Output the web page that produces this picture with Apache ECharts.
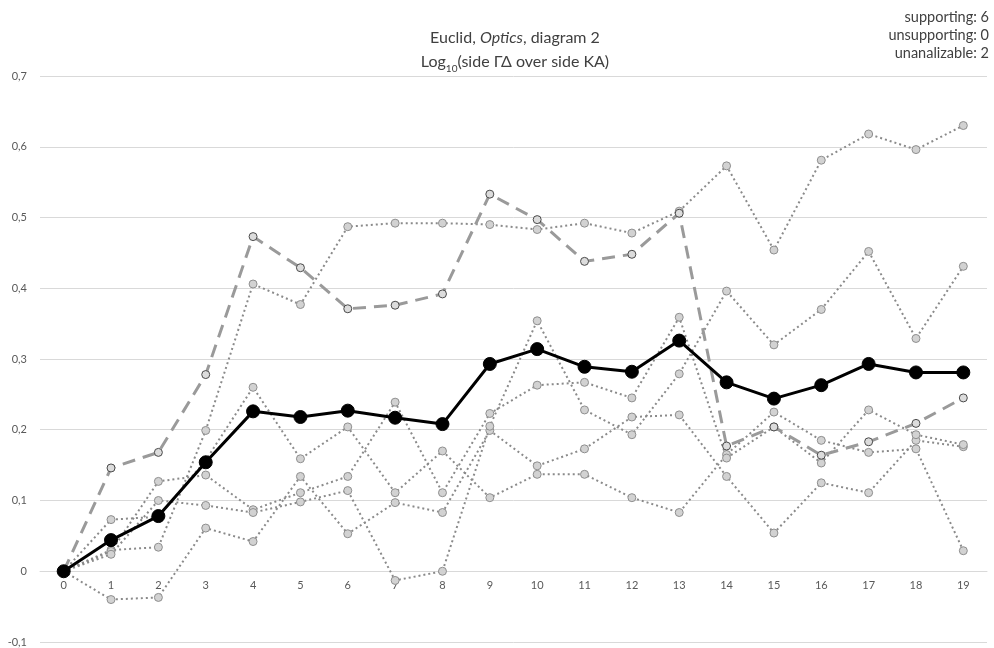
<!DOCTYPE html>
<html>
<head>
<meta charset="utf-8">
<script src="https://cdn.jsdelivr.net/npm/echarts@6/dist/echarts.min.js"></script>
<style>
html,body{margin:0;padding:0;background:#fff;}
#chart{width:994px;height:648px;}
</style>
</head>
<body>
<div id="chart"></div>
<script>
const categories = ['0','1','2','3','4','5','6','7','8','9','10','11','12','13','14','15','16','17','18','19'];
const yTicks = [-0.1, 0, 0.1, 0.2, 0.3, 0.4, 0.5, 0.6, 0.7];

const supportA = [0, 0.030, 0.034, 0.199, 0.406, 0.377, 0.487, 0.492, 0.492, 0.490, 0.483, 0.492, 0.478, 0.509, 0.573, 0.454, 0.581, 0.618, 0.596, 0.630];
const supportB = [0, 0.073, 0.077, 0.157, 0.260, 0.159, 0.204, 0.111, 0.170, 0.104, 0.137, 0.137, 0.104, 0.083, 0.165, 0.225, 0.185, 0.168, 0.173, 0.029];
const supportC = [0, -0.040, -0.037, 0.061, 0.042, 0.134, 0.053, 0.097, 0.083, 0.199, 0.149, 0.173, 0.218, 0.221, 0.134, 0.054, 0.125, 0.111, 0.185, 0.176];
const supportD = [0, 0.028, 0.127, 0.136, 0.087, 0.111, 0.134, 0.239, 0.111, 0.223, 0.263, 0.267, 0.245, 0.359, 0.160, 0.204, 0.153, 0.228, 0.193, 0.179];
const supportE = [0, 0.024, 0.100, 0.093, 0.083, 0.098, 0.114, -0.013, 0.000, 0.205, 0.354, 0.228, 0.193, 0.279, 0.396, 0.320, 0.370, 0.452, 0.329, 0.431];
const unanalizable = [0, 0.146, 0.168, 0.278, 0.473, 0.429, 0.371, 0.376, 0.392, 0.533, 0.497, 0.438, 0.448, 0.506, 0.177, 0.204, 0.164, 0.183, 0.209, 0.245];
const average = [0, 0.044, 0.078, 0.154, 0.226, 0.218, 0.227, 0.217, 0.208, 0.293, 0.314, 0.289, 0.282, 0.326, 0.267, 0.244, 0.263, 0.293, 0.281, 0.281];

const counts = ['supporting: 6', 'unsupporting: 0', 'unanalizable: 2'];

const FONT = 'Lato, "Open Sans", sans-serif';
const GRID_TOP = 76, GRID_BOTTOM = 6, H = 648;
const plotH = H - GRID_TOP - GRID_BOTTOM;
const yMin = yTicks[0], yMax = yTicks[yTicks.length - 1];
// move the category axis up to the value 0 line
const zeroOffset = -plotH * (0 - yMin) / (yMax - yMin);

function dottedSeries(data) {
  return {
    type: 'line', data: data, symbol: 'circle', symbolSize: 8,
    lineStyle: { color: '#8a8a8a', width: 2, type: [2, 3] },
    itemStyle: { color: '#d2d2d2', borderColor: '#8f8f8f', borderWidth: 1 },
    z: 2
  };
}

const chart = echarts.init(document.getElementById('chart'));
chart.setOption({
  animation: false,
  backgroundColor: '#ffffff',
  title: {
    left: 510, top: 21, textAlign: 'center',
    text: '{n|Euclid, }{i|Optics}{n|, diagram 2}\n{n|Log}{s|10}{n|(side ΓΔ over side KA)}',
    textStyle: {
      fontWeight: 'normal',
      rich: {
        n: { fontFamily: FONT, fontSize: 16, fontWeight: 'normal', color: '#404040', lineHeight: 24 },
        i: { fontFamily: FONT, fontSize: 16, fontWeight: 'normal', color: '#404040', fontStyle: 'italic', lineHeight: 24 },
        s: { fontFamily: FONT, fontSize: 10, fontWeight: 'normal', color: '#404040', lineHeight: 10, verticalAlign: 'bottom' }
      }
    }
  },
  graphic: [{
    type: 'text', right: 5, top: 8,
    style: {
      text: counts.join('\n'), textAlign: 'right',
      fontFamily: FONT, fontSize: 14.5, fill: '#404040', lineHeight: 18
    }
  }],
  grid: { left: 40, right: 7, top: GRID_TOP, bottom: GRID_BOTTOM, containLabel: false, outerBoundsMode: 'none' },
  xAxis: {
    type: 'category', data: categories, boundaryGap: true,
    offset: zeroOffset,
    axisLine: { onZero: false, lineStyle: { color: '#d9d9d9', width: 1 } },
    axisTick: { show: false },
    axisLabel: { fontFamily: FONT, fontSize: 11, color: '#595959', margin: 9 },
    splitLine: { show: false }
  },
  yAxis: {
    type: 'value', min: yMin, max: yMax, interval: 0.1,
    axisLine: { show: false }, axisTick: { show: false },
    axisLabel: {
      fontFamily: FONT, fontSize: 11, color: '#595959', margin: 13,
      formatter: function (v) { const r = Math.round(v * 10) / 10; return r === 0 ? '0' : r.toFixed(1).replace('.', ','); }
    },
    splitLine: { lineStyle: { color: '#d9d9d9', width: 1 } }
  },
  series: [
    dottedSeries(supportA),
    dottedSeries(supportB),
    dottedSeries(supportC),
    dottedSeries(supportD),
    dottedSeries(supportE),
    {
      type: 'line', data: unanalizable, symbol: 'circle', symbolSize: 8,
      lineStyle: { color: '#9a9a9a', width: 3, type: [13, 8] },
      itemStyle: { color: '#dcdcdc', borderColor: '#4a4a4a', borderWidth: 1 },
      z: 3
    },
    {
      type: 'line', data: average, symbol: 'circle', symbolSize: 13,
      lineStyle: { color: '#000000', width: 3 },
      itemStyle: { color: '#000000', borderColor: '#000000', borderWidth: 1 },
      z: 4
    }
  ]
});
</script>
</body>
</html>
